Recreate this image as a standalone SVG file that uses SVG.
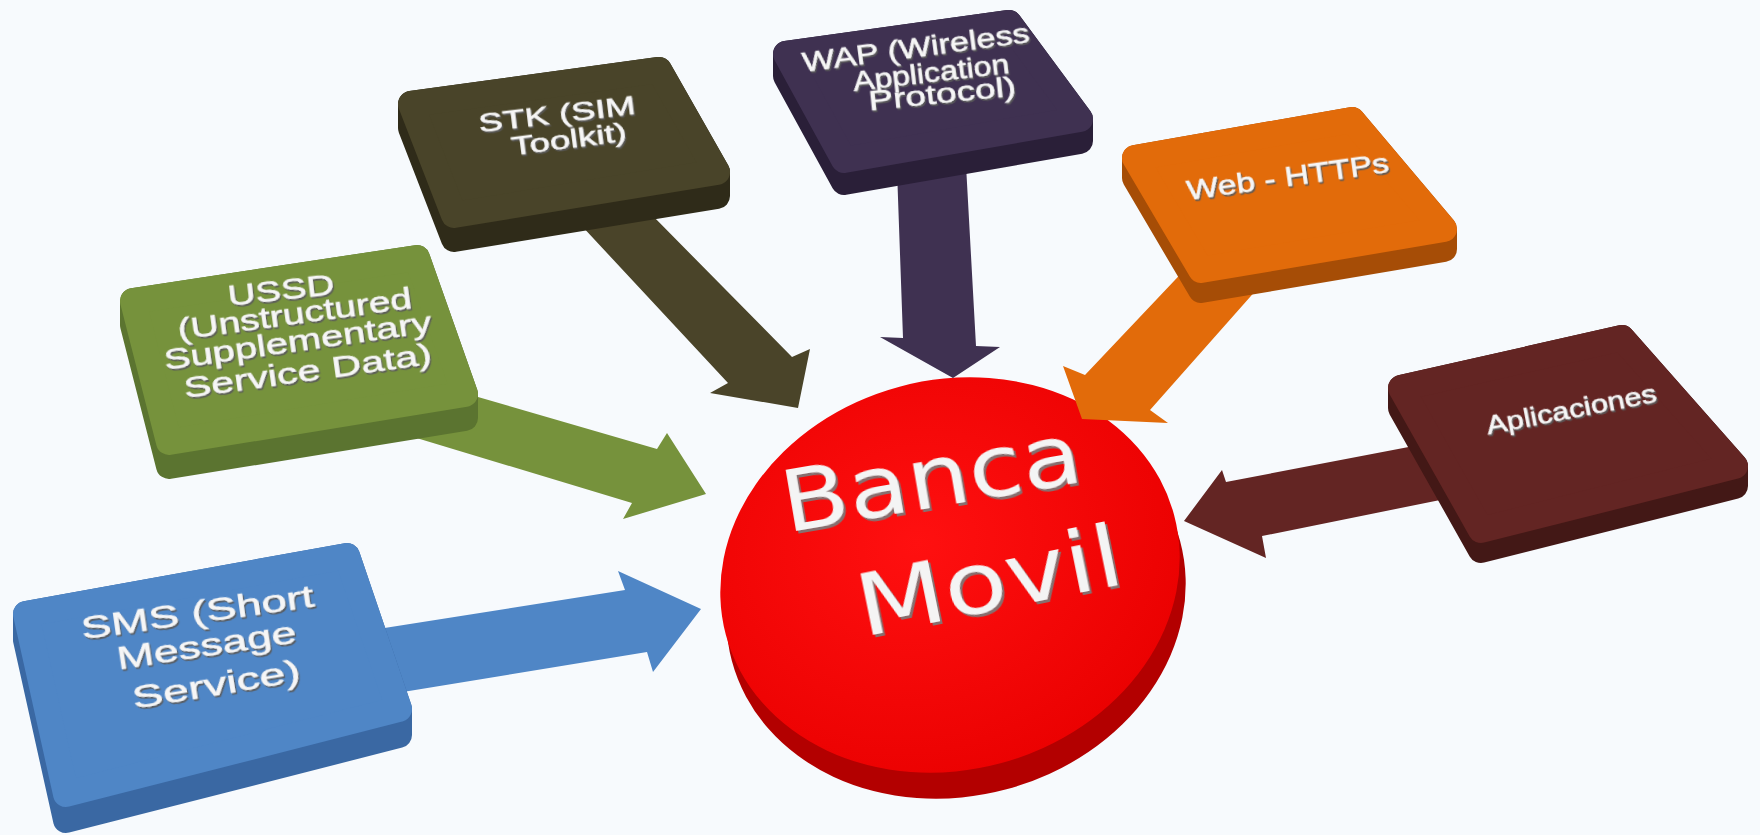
<svg xmlns="http://www.w3.org/2000/svg" width="1760" height="835" viewBox="0 0 1760 835">
<defs>
<style>
.face{stroke-width:26;stroke-linejoin:round}
.lbl{font-family:"Liberation Sans",Arial,sans-serif;fill:#f6f6f6;stroke:#f6f6f6;stroke-width:0.5;text-anchor:middle;filter:url(#sh)}
.big{font-family:"DejaVu Sans","Liberation Sans",sans-serif;fill:#f4f4f4;text-anchor:middle;filter:url(#shb)}
</style>
<filter id="sh" x="-10%" y="-30%" width="120%" height="160%">
<feDropShadow dx="1.2" dy="2" stdDeviation="0.4" flood-color="#5a5a5a" flood-opacity="0.9"/>
</filter>
<filter id="shb" x="-10%" y="-30%" width="120%" height="160%">
<feDropShadow dx="2" dy="3" stdDeviation="0.6" flood-color="#7a7a7a" flood-opacity="0.9"/>
</filter>
<radialGradient id="rf" cx="0.45" cy="0.4" r="0.65">
<stop offset="0" stop-color="#ff1010"/>
<stop offset="1" stop-color="#ea0000"/>
</radialGradient>
</defs>
<rect width="1760" height="835" fill="#f7fafd"/>

<g id="center">
<ellipse cx="956" cy="601" rx="232" ry="195" transform="rotate(-15 956 601)" fill="#b30000"/>
<ellipse cx="950" cy="575" rx="232" ry="195" transform="rotate(-15 950 575)" fill="url(#rf)"/>
<text class="big" font-size="86" textLength="303" lengthAdjust="spacingAndGlyphs" transform="translate(936 507) rotate(-9.7)">Banca</text>
<text class="big" font-size="86" textLength="269" lengthAdjust="spacingAndGlyphs" transform="translate(995 610) rotate(-11.5)">Movil</text>
</g>

<g id="connectors">
<polygon fill="#4f86c6" points="340,635 625,590 618,571 701,609 653,672 647,652 360,699"/>
<polygon fill="#76923c" points="440,386 657,449 667,433 706,494 623,519 632,503 400,433"/>
<polygon fill="#4a4429" points="580,224 650,213 792,357 810,349 798,408 710,393 728,383"/>
<polygon fill="#3f3151" points="897,170 966,165 976,346 1000,347 953,378 880,337 903,338"/>
<polygon fill="#e26b0a" points="1192,262 1258,288 1150,410 1168,423 1082,419 1063,366 1085,375"/>
<polygon fill="#632523" points="1184,521 1222,470 1226,482 1440,441 1460,496 1262,536 1266,558"/>
</g>

<g id="sms">
<polygon class="face" fill="#3a68a3" stroke="#3a68a3" points="26,614 347,556 399,709 399,735 66,820 26,640"/>
<polygon class="face" fill="#4f86c6" stroke="#4f86c6" points="26,614 347,556 399,709 66,794"/>
<text class="lbl" font-size="32" textLength="235" lengthAdjust="spacingAndGlyphs" transform="translate(199 623) rotate(-8.1)">SMS (Short</text>
<text class="lbl" font-size="32" textLength="181" lengthAdjust="spacingAndGlyphs" transform="translate(208 656) rotate(-8.6)">Message</text>
<text class="lbl" font-size="32" textLength="170" lengthAdjust="spacingAndGlyphs" transform="translate(218 695) rotate(-9.5)">Service)</text>
</g>

<g id="ussd">
<polygon class="face" fill="#5b7430" stroke="#5b7430" points="133,301 417,258 465,394 465,418 169,466 133,325"/>
<polygon class="face" fill="#76923c" stroke="#76923c" points="133,301 417,258 465,394 169,442"/>
<text class="lbl" font-size="30" textLength="107" lengthAdjust="spacingAndGlyphs" transform="translate(282 300) rotate(-6.5)">USSD</text>
<text class="lbl" font-size="30" textLength="236" lengthAdjust="spacingAndGlyphs" transform="translate(296 324) rotate(-7.8)">(Unstructured</text>
<text class="lbl" font-size="30" textLength="270" lengthAdjust="spacingAndGlyphs" transform="translate(299 351) rotate(-8.1)">Supplementary</text>
<text class="lbl" font-size="30" textLength="250" lengthAdjust="spacingAndGlyphs" transform="translate(309 381) rotate(-7.9)">Service Data)</text>
</g>

<g id="stk">
<polygon class="face" fill="#2f2b19" stroke="#2f2b19" points="411,104 659,70 717,172 717,196 454,239 411,128"/>
<polygon class="face" fill="#494429" stroke="#494429" points="411,104 659,70 717,172 454,215"/>
<text class="lbl" font-size="25" textLength="158" lengthAdjust="spacingAndGlyphs" transform="translate(558 123) rotate(-6.8)">STK (SIM</text>
<text class="lbl" font-size="25" textLength="116" lengthAdjust="spacingAndGlyphs" transform="translate(570 148) rotate(-7.4)">Toolkit)</text>
</g>

<g id="wap">
<polygon class="face" fill="#2a1f38" stroke="#2a1f38" points="786,54 1009,23 1080,119 1080,141 844,182 786,76"/>
<polygon class="face" fill="#3f3151" stroke="#3f3151" points="786,54 1009,23 1080,119 844,160"/>
<text class="lbl" font-size="27" textLength="229" lengthAdjust="spacingAndGlyphs" transform="translate(917 57) rotate(-7.5)">WAP (Wireless</text>
<text class="lbl" font-size="27" textLength="157" lengthAdjust="spacingAndGlyphs" transform="translate(932 82) rotate(-6.6)">Application</text>
<text class="lbl" font-size="27" textLength="148" lengthAdjust="spacingAndGlyphs" transform="translate(943 103) rotate(-5.8)">Protocol)</text>
</g>

<g id="web">
<polygon class="face" fill="#a64d06" stroke="#a64d06" points="1135,158 1352,120 1444,229 1444,249 1201,290 1135,178"/>
<polygon class="face" fill="#e26b0a" stroke="#e26b0a" points="1135,158 1352,120 1444,229 1201,270"/>
<text class="lbl" font-size="28" textLength="204" lengthAdjust="spacingAndGlyphs" transform="translate(1289 186) rotate(-7.9)">Web - HTTPs</text>
</g>

<g id="aplicaciones">
<polygon class="face" fill="#431816" stroke="#431816" points="1401,388 1622,338 1735,466 1735,486 1481,550 1401,408"/>
<polygon class="face" fill="#632523" stroke="#632523" points="1401,388 1622,338 1735,466 1481,530"/>
<text class="lbl" font-size="25" textLength="173" lengthAdjust="spacingAndGlyphs" transform="translate(1573 418) rotate(-11)">Aplicaciones</text>
</g>
</svg>
